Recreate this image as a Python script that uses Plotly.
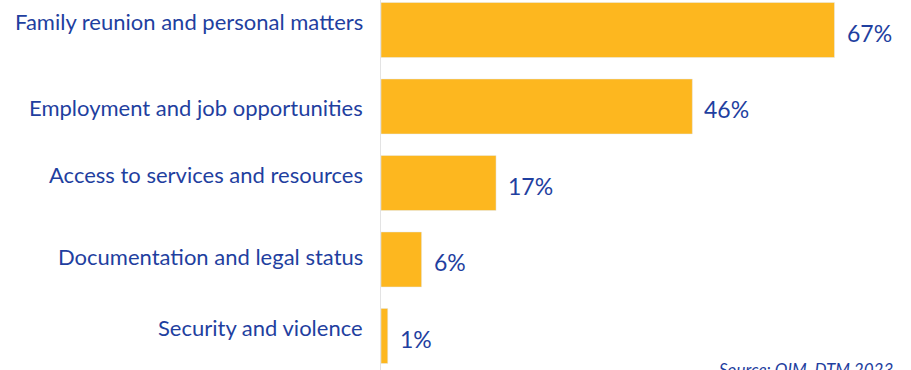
import plotly.graph_objects as go

categories = [
    "Family reunion and personal matters",
    "Employment and job opportunities",
    "Access to services and resources",
    "Documentation and legal status",
    "Security and violence",
]
values = [67, 46, 17, 6, 1]
labels = ["67%", "46%", "17%", "6%", "1%"]

blue = "#1f3fa0"
# pequeño desplazamiento vertical de cada etiqueta, como en el original
label_yshift = [8, -1, 8, 3, 8]

fig = go.Figure(go.Bar(
    x=values,
    y=categories,
    orientation="h",
    marker_color="#fdb71f",
    hoverinfo="x+y",
))

# etiquetas de categoría a la izquierda del eje
for c, dy in zip(categories, label_yshift):
    fig.add_annotation(x=0, y=c, text=c, showarrow=False, xanchor="right",
                       xshift=-16, yshift=dy, font=dict(size=22, color=blue, family="Lato"))

# etiquetas de porcentaje a la derecha de cada barra
for v, c, t in zip(values, categories, labels):
    fig.add_annotation(x=v, y=c, text=t, showarrow=False, xanchor="left",
                       xshift=10, yshift=-3, font=dict(size=23, color=blue, family="Lato"))

fig.add_annotation(
    x=1, y=0.035, xref="paper", yref="paper", xanchor="right", yanchor="top",
    xshift=-16, text="<i>Source: OIM, DTM 2023</i>", showarrow=False,
    font=dict(size=17, color=blue, family="Lato"),
)

fig.update_layout(
    width=911, height=370,
    margin=dict(l=381, r=0, t=0, b=0),
    paper_bgcolor="white",
    plot_bgcolor="white",
    bargap=0.28,
    showlegend=False,
    font=dict(family="Lato", color=blue, size=22),
    xaxis=dict(range=[0, 78.3], visible=False),
    yaxis=dict(
        categoryorder="array", categoryarray=categories,
        range=[4.445, -0.392],
        showline=True, linecolor="#e3e3e3", linewidth=1,
        showgrid=False, ticks="", showticklabels=False,
    ),
)

# quitar el margen del body para que la figura empiece en (0, 0)
fig.write_html(
    "out.html",
    config={"displayModeBar": False},
    post_script="document.body.style.margin='0';",
)
